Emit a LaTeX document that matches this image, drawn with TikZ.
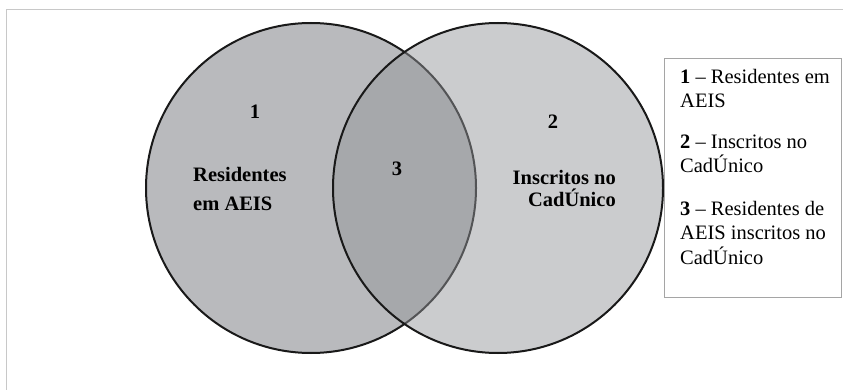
\documentclass[tikz,border=0pt]{standalone}
\usepackage{fontspec}
\setmainfont{Liberation Serif}

\definecolor{leftgray}{RGB}{185,186,189}
\definecolor{rightgray}{RGB}{147,149,153}
\definecolor{framegray}{RGB}{200,200,200}
\definecolor{boxgray}{RGB}{165,165,165}

\tikzset{
    venn/.style={circle, draw=black!90, line width=2pt, minimum size=330pt, inner sep=0pt},
    label text/.style={font=\fontsize{20.5}{29}\selectfont\bfseries, inner sep=0pt},
    key text/.style={font=\fontsize{20.5}{24.5}\selectfont, align=left, inner sep=0pt, anchor=base west}
}

\begin{document}
\begin{tikzpicture}[x=1pt, y=-1pt]
    \useasboundingbox (0,0) rectangle (843,390);

    % Outer frame
    \draw[framegray, line width=0.8pt] (843,9) -- (6,9) -- (6,390);

    % Circles
    \node[venn, fill=leftgray] (aeis) at (311,188) {};
    \node[venn, fill=rightgray, fill opacity=0.48] (cad) at (498,188) {};

    % Labels in circles (base = last line)
    \node[label text, anchor=base] (n1) at (255,119) {1};
    \node[label text, anchor=base west, align=left] (aeislabel) at (193,210.5) {Residentes\\em AEIS};
    \node[label text, anchor=base] (n3) at (397,176) {3};
    \node[label text, anchor=base] (n2) at (553,129) {2};
    \node[label text, anchor=base east, align=right, font=\fontsize{20.5}{22.5}\selectfont\bfseries] (cadlabel) at (616,207) {Inscritos no\\CadÚnico};

    % Key
    \draw[boxgray, line width=0.8pt] (664,58) rectangle (841,297);
    \node[key text] (key1) at (680,108) {\textbf{1} – Residentes em\\AEIS};
    \node[key text] (key2) at (680,173) {\textbf{2} – Inscritos no\\CadÚnico};
    \node[key text] (key3) at (680,264) {\textbf{3} – Residentes de\\AEIS inscritos no\\CadÚnico};

\end{tikzpicture}
\end{document}
